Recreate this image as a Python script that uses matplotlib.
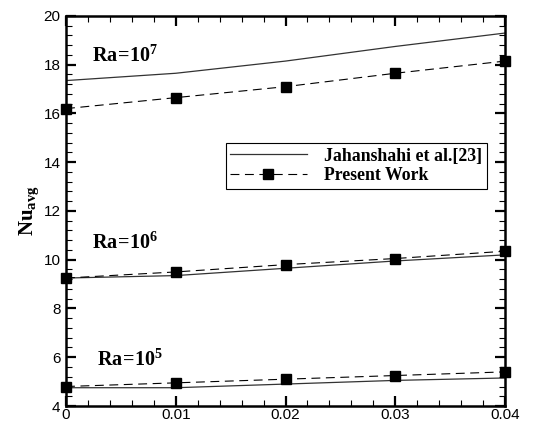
import matplotlib
matplotlib.use("Agg")
import matplotlib.pyplot as plt
from matplotlib.ticker import MultipleLocator

plt.rcParams['mathtext.fontset'] = 'custom'
plt.rcParams['mathtext.rm'] = 'Liberation Serif'
plt.rcParams['mathtext.bf'] = 'Liberation Serif:bold'
plt.rcParams['mathtext.it'] = 'Liberation Serif:italic'

phi = [0.0, 0.01, 0.02, 0.03, 0.04]
jah_ra7 = [17.35, 17.65, 18.15, 18.75, 19.3]
pw_ra7 = [16.2, 16.65, 17.1, 17.65, 18.15]
jah_ra6 = [9.25, 9.35, 9.65, 9.95, 10.2]
pw_ra6 = [9.25, 9.5, 9.8, 10.05, 10.35]
jah_ra5 = [4.75, 4.75, 4.9, 5.05, 5.15]
pw_ra5 = [4.8, 4.95, 5.1, 5.25, 5.4]

labels = [r'$\mathbf{Ra\!=\!10^{7}}$', r'$\mathbf{Ra\!=\!10^{6}}$', r'$\mathbf{Ra\!=\!10^{5}}$']
label_pos = [(0.0024, 17.95), (0.0024, 10.28), (0.0028, 5.48)]

fig = plt.figure(figsize=(5.47, 4.25), dpi=100)
ax = fig.add_axes([0.1207, 0.0447, 0.8025, 0.9177])

for jah, pw in [(jah_ra7, pw_ra7), (jah_ra6, pw_ra6), (jah_ra5, pw_ra5)]:
    l1, = ax.plot(phi, jah, '-', color='#333333', lw=0.9)
    l2, = ax.plot(phi, pw, color='black', lw=0.8, dashes=(8, 5), marker='s',
                  markersize=7.5, markerfacecolor='black', markeredgecolor='black', clip_on=False)

for t, (x, y) in zip(labels, label_pos):
    ax.text(x, y, t, fontsize=14.5, ha='left', va='bottom')

ax.set_xlim(0, 0.04)
ax.set_ylim(4, 20)
ax.xaxis.set_major_locator(MultipleLocator(0.01))
ax.xaxis.set_minor_locator(MultipleLocator(0.002))
ax.yaxis.set_major_locator(MultipleLocator(2))
ax.yaxis.set_minor_locator(MultipleLocator(0.4))
ax.set_xticks(phi)
ax.set_xticklabels(['0', '0.01', '0.02', '0.03', '0.04'])
ax.tick_params(which='both', direction='in', top=True, right=True)
ax.tick_params(which='major', length=7, width=1.6, labelsize=11)
ax.tick_params(axis='x', which='major', pad=1.5)
ax.tick_params(axis='y', which='major', pad=4)
ax.tick_params(which='minor', length=4, width=0.8)
for lab in ax.get_xticklabels() + ax.get_yticklabels():
    lab.set_family('Liberation Sans')
for s in ax.spines.values():
    s.set_linewidth(1.8)

ax.set_ylabel(r'$\mathbf{Nu_{avg}}$', fontsize=15, labelpad=2)

leg = ax.legend([l1, l2], ['Jahanshahi et al.[23]', 'Present Work'],
                loc='upper left', bbox_to_anchor=(0.364, 0.674), borderaxespad=0,
                handlelength=4.3, fancybox=False, edgecolor='black', framealpha=1,
                prop={'family': 'Liberation Serif', 'weight': 'bold', 'size': 12.8},
                borderpad=0.25, labelspacing=0.15, handletextpad=1.0)
leg.get_frame().set_linewidth(0.8)

fig.savefig('out.png', dpi=100)
